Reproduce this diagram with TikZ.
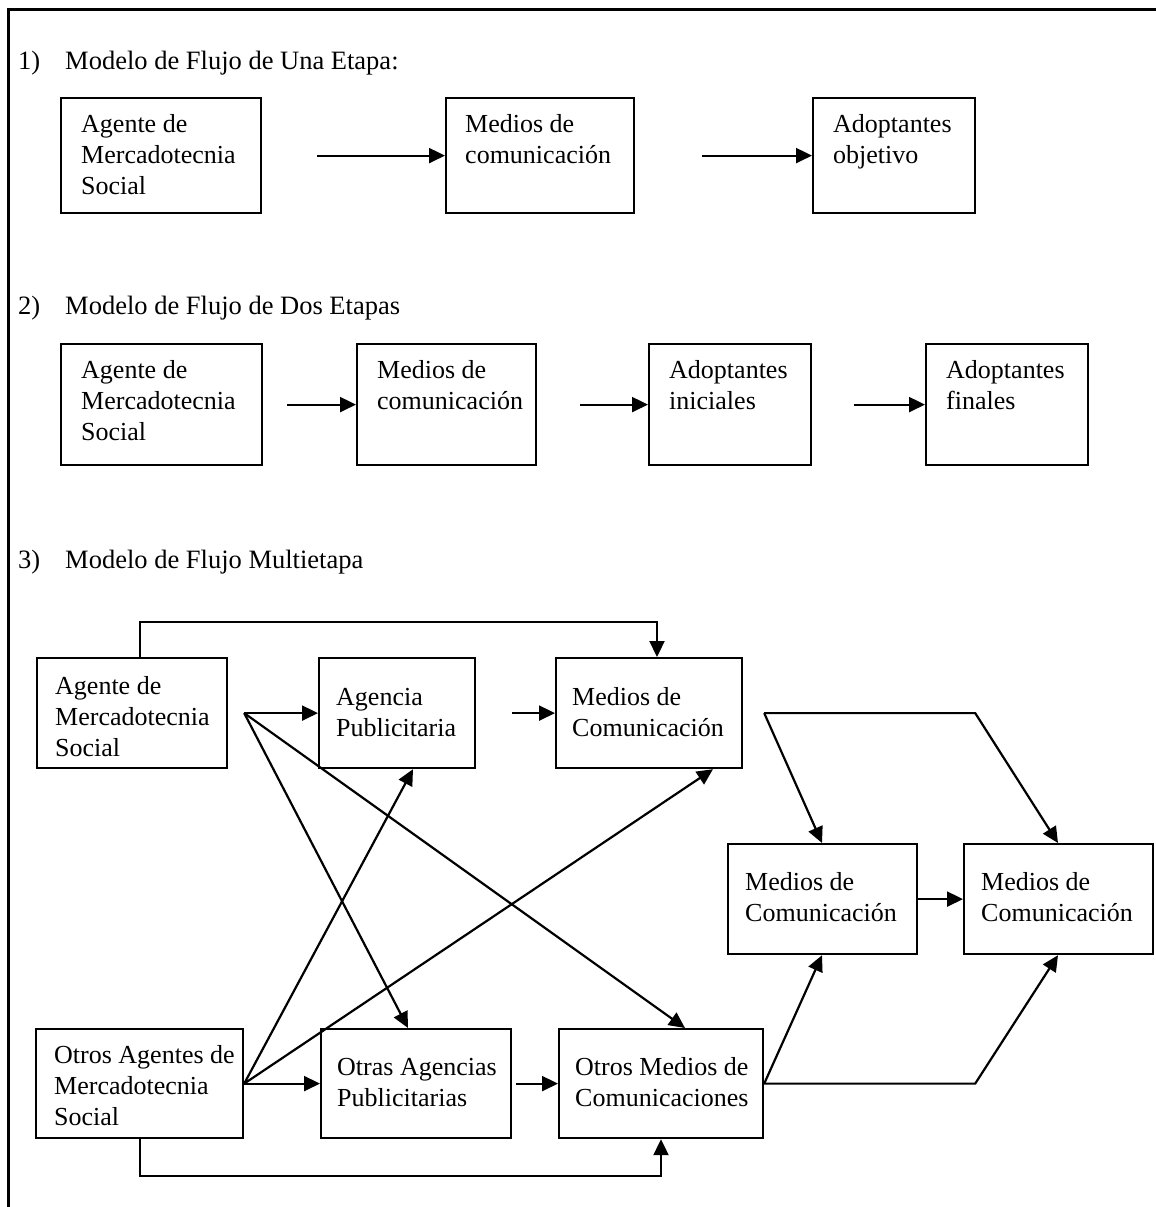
\documentclass[tikz,border=0pt]{standalone}
\usepackage{fontspec}
\setmainfont{Liberation Serif}
\usetikzlibrary{arrows.meta,calc}
\begin{document}
\begin{tikzpicture}[x=1pt,y=-1pt,
  box/.style={draw, line width=2.2pt, inner sep=0pt, anchor=north west},
  txt/.style={anchor=base west, inner sep=0pt, font=\fontsize{26}{31}\selectfont},
  ttl/.style={anchor=base west, inner sep=0pt, font=\fontsize{26.5}{31}\selectfont},
  arr/.style={line width=2.2pt, -{Triangle[length=16pt,width=15pt]}},
  frameline/.style={line width=3pt}]
\useasboundingbox (0,0) rectangle (1156,1207);
\newcommand\bx[6]{%
  \node[box, minimum width=#4pt, minimum height=#5pt] (#1) at (#2,#3) {};}
\newcommand\bt[4]{%
  \node[txt] (#1t) at ($(#1.north west)+(#2,#3)$) {\vtop{#4}};}

% frame
\draw[frameline] (8,1207) -- (8,10) -- (1156,10);

% ---------- section 1
\node[ttl] (t1) at (18,70) {1)};
\node[ttl] (t1b) at (65,70) {Modelo de Flujo de Una Etapa:};
\bx{A1}{60}{97}{200}{115}{}
\bt{A1}{21}{35}{\hbox{Agente de}\hbox{Mercadotecnia}\hbox{Social}}
\bx{M1}{445}{97}{188}{115}{}
\bt{M1}{20}{35}{\hbox{Medios de}\hbox{comunicación}}
\bx{Ad1}{812}{97}{162}{115}{}
\bt{Ad1}{21}{35}{\hbox{Adoptantes}\hbox{objetivo}}
\draw[arr] ([xshift=55pt]A1.east) -- (M1.west);
\draw[arr] ([xshift=67pt]M1.east) -- (Ad1.west);

% ---------- section 2
\node[ttl] (t2) at (18,314) {2)};
\node[ttl] (t2b) at (65,314) {Modelo de Flujo de Dos Etapas};
\bx{A2}{60}{343}{201}{121}{}
\bt{A2}{21}{35}{\hbox{Agente de}\hbox{Mercadotecnia}\hbox{Social}}
\bx{M2}{356}{343}{179}{121}{}
\bt{M2}{21}{35}{\hbox{Medios de}\hbox{comunicación}}
\bx{Ad2}{648}{343}{162}{121}{}
\bt{Ad2}{21}{35}{\hbox{Adoptantes}\hbox{iniciales}}
\bx{Ad3}{925}{343}{162}{121}{}
\bt{Ad3}{21}{35}{\hbox{Adoptantes}\hbox{finales}}
\draw[arr] ([xshift=24pt]A2.east) -- (M2.west);
\draw[arr] ([xshift=43pt]M2.east) -- (Ad2.west);
\draw[arr] ([xshift=42pt]Ad2.east) -- (Ad3.west);

% ---------- section 3
\node[ttl] (t3) at (18,568) {3)};
\node[ttl] (t3b) at (65,568) {Modelo de Flujo Multietapa};
\bx{A3}{36}{657}{190}{110}{}
\bt{A3}{19}{37}{\hbox{Agente de}\hbox{Mercadotecnia}\hbox{Social}}
\bx{Ag3}{318}{657}{156}{110}{}
\bt{Ag3}{18}{48}{\hbox{Agencia}\hbox{Publicitaria}}
\bx{M3}{555}{657}{186}{110}{}
\bt{M3}{17}{48}{\hbox{Medios de}\hbox{Comunicación}}
\bx{MC1}{727}{843}{189}{110}{}
\bt{MC1}{18}{47}{\hbox{Medios de}\hbox{Comunicación}}
\bx{MC2}{963}{843}{189}{110}{}
\bt{MC2}{18}{47}{\hbox{Medios de}\hbox{Comunicación}}
\bx{OA3}{35}{1028}{207}{109}{}
\bt{OA3}{19}{35}{\hbox{Otros Agentes de}\hbox{Mercadotecnia}\hbox{Social}}
\bx{OAg3}{320}{1028}{190}{109}{}
\bt{OAg3}{17}{47}{\hbox{Otras Agencias}\hbox{Publicitarias}}
\bx{OM3}{558}{1028}{204}{109}{}
\bt{OM3}{17}{47}{\hbox{Otros Medios de}\hbox{Comunicaciones}}

% top and bottom routes
\draw[arr] ($(A3.north west)+(104,0)$) -- ++(0,-35) -| ($(M3.north west)+(102,0)$);
\draw[arr] ($(OA3.south west)+(105,0)$) -- ++(0,37) -| ($(OM3.south west)+(103,0)$);

% fans
\coordinate (fa) at ($(A3.east)+(16,0)$);
\coordinate (fb) at (OA3.east);
\coordinate (fc) at ($(M3.east)+(21,0)$);
\coordinate (fd) at (OM3.east);

\draw[arr] (fa) -- (Ag3.west);
\draw[arr] (fa) -- ($(OAg3.north west)+(88,0)$);
\draw[arr] (fa) -- ($(OM3.north west)+(127,0)$);

\draw[arr] (fb) -- (OAg3.west);
\draw[arr] (fb) -- ($(Ag3.south west)+(95,0)$);
\draw[arr] (fb) -- ($(M3.south west)+(158,0)$);

\draw[arr] ([xshift=36pt]Ag3.east) -- (M3.west);
\draw[arr] ([xshift=4pt]OAg3.east) -- (OM3.west);

\draw[arr] (fc) -- ($(MC1.north west)+(95,0)$);
\draw[arr] (fc) -- ++(211,0) -- ($(MC2.north west)+(95,0)$);
\draw[arr] (fd) -- ($(MC1.south west)+(95,0)$);
\draw[arr] (fd) -- ++(211,0) -- ($(MC2.south west)+(95,0)$);
\draw[arr] (MC1) -- (MC2);
\end{tikzpicture}
\end{document}
